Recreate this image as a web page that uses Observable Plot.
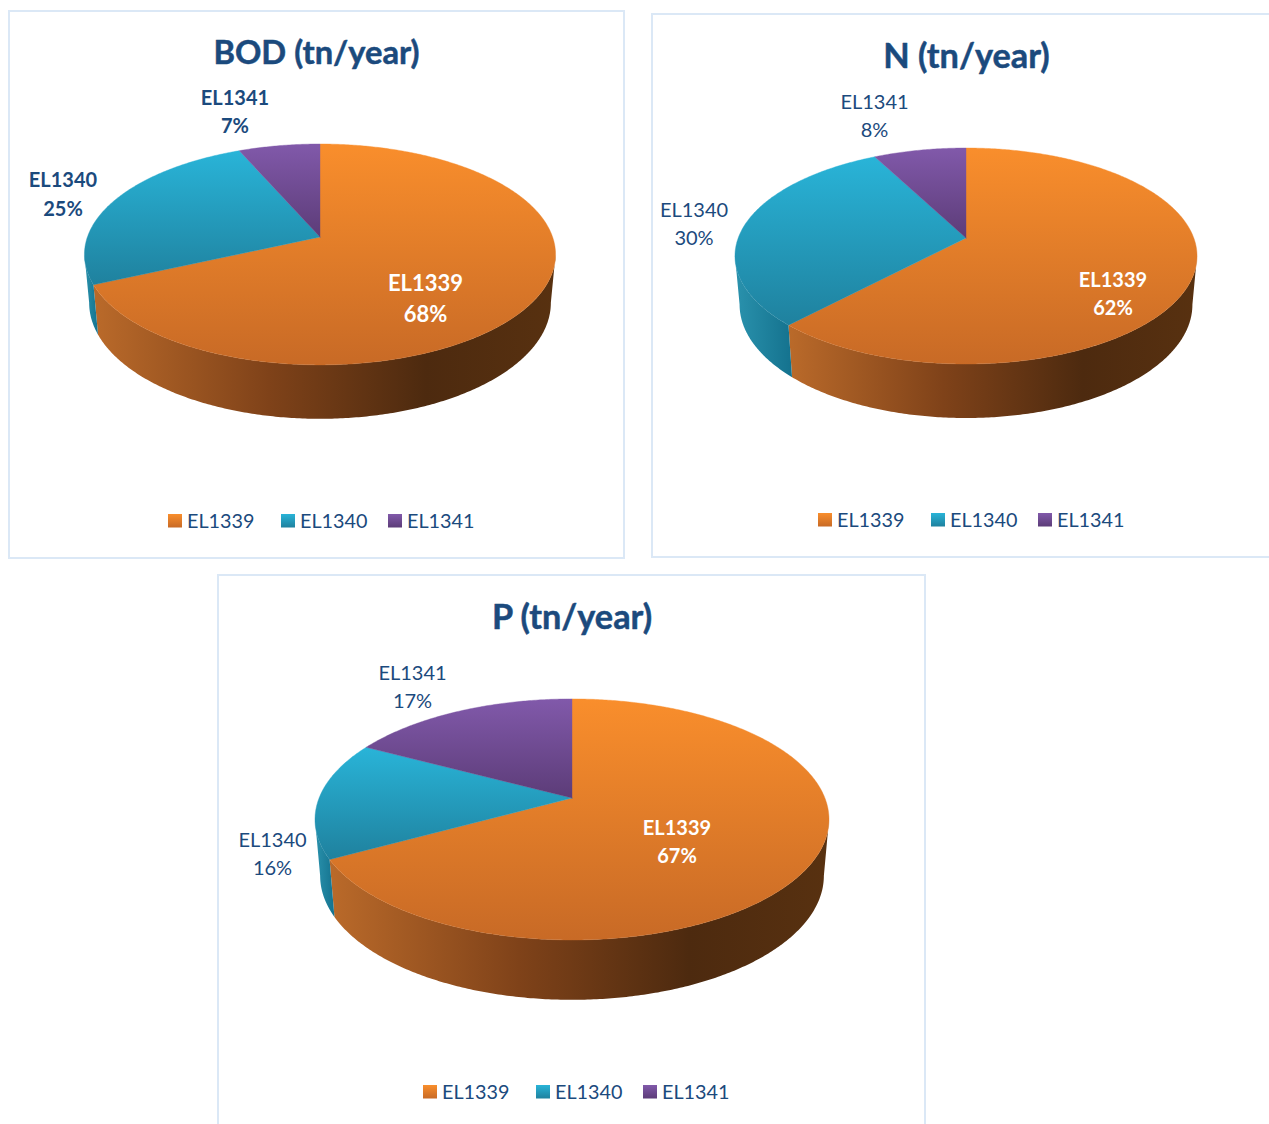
<!DOCTYPE html>
<html>
<head>
<meta charset="utf-8">
<script src="https://cdn.jsdelivr.net/npm/d3@7"></script>
<script src="https://cdn.jsdelivr.net/npm/@observablehq/plot@0.6"></script>
<style>html,body{margin:0;padding:0;background:#fff;overflow:hidden}svg{display:block}</style>
</head>
<body>
<div id="chart"></div>
<script>
// ---- data ----
const series = ["EL1339", "EL1340", "EL1341"];
const titles = ["BOD (tn/year)", "N (tn/year)", "P (tn/year)"];
const bodValues = [68.2, 25.3, 6.5];
const nValues = [62, 30.4, 7.6];
const pValues = [67, 15.8, 17.2];

// ---- layout and style (separate from the values) ----
const W = 1269, H = 1124;
const ink = "#1b4a7d";
const faceStops = [["#f98e2c", "#c86a26"], ["#29b4d8", "#1f819e"], ["#8159aa", "#5c3c78"]];
const wallStops = [
  [[0, "#ba6a2a"], [0.38, "#7f4219"], [0.72, "#4d2a0f"], [1, "#583110"]],
  [[0, "#2a92ad"], [1, "#14728e"]],
  [[0, "#5c3c78"], [1, "#4a2f62"]]
];
const panels = [
  {values: bodValues, title: titles[0], frame: [9, 624, 11, 558], titleAt: [316, 53], titleSize: 32.7,
   cx: 319.5, cy: 236.5, a: 232.6, b: 107.7, k: -0.158, drop: 47.5, shrinkX: 0.98, shrinkY: 1.05,
   labels: [[425, 283, 314], [62.5, 180, 209], [234.5, 98, 126]], labelBold: true, labelSizes: [22, 20, 20],
   legend: [168, 521]},
  {values: nValues, title: titles[1], frame: [652, 1290, 14, 557], titleAt: [966, 57], titleSize: 34.3,
   cx: 965.5, cy: 237.5, a: 227.8, b: 105, k: -0.1667, drop: 47.7, shrinkX: 0.98, shrinkY: 1.05,
   labels: [[1112.5, 280, 308], [693.5, 210, 238], [874, 102, 130]], labelBold: false, labelSizes: [20, 20, 20],
   legend: [818, 520]},
  {values: pValues, title: titles[2], frame: [218, 925, 575, 1150], titleAt: [571.5, 618], titleSize: 34.3,
   cx: 571.5, cy: 797.5, a: 252.9, b: 116.7, k: -0.178, drop: 55.6, shrinkX: 0.98, shrinkY: 1.03,
   labels: [[676.5, 828, 856], [272, 840, 868], [412, 673, 701]], labelBold: false, labelSizes: [20, 20, 20],
   legend: [423, 1092]}
];
const legendOffsets = [0, 113, 220];
const TAU = 2 * Math.PI;

// perspective disc: angle clockwise from the top of the pie -> picture position
function upperRim(p, t) {
  const X = Math.sin(t), Y = -Math.cos(t), w = 1 + p.k * Y;
  return {x: p.cx + p.a * X / w, y: p.cy + p.b * Y / w};
}
function lowerRim(p, t) {
  const q = upperRim(p, t);
  return {x: p.cx + p.shrinkX * (q.x - p.cx), y: p.cy + p.drop + p.shrinkY * (q.y - p.cy)};
}
function arc(f, p, t0, t1) {
  const n = Math.max(2, Math.ceil(Math.abs(t1 - t0) / 0.01));
  return d3.range(n + 1).map(i => f(p, t0 + (t1 - t0) * i / n));
}

const marks = [];
panels.forEach(p => {
  marks.push(Plot.rect([p.frame], {x1: d => d[0], x2: d => d[1], y1: d => d[2], y2: d => d[3],
    fill: "none", stroke: "#dbe8f6", strokeWidth: 2}));
  const total = d3.sum(p.values);
  const arcs = [];
  let acc = 0;
  p.values.forEach((v, i) => { arcs.push({i, t0: acc / total * TAU, t1: (acc + v) / total * TAU}); acc += v; });
  const tR = Math.acos(p.k), tL = TAU - tR;
  // side walls of the visible front of the disc
  arcs.forEach(s => {
    const a0 = Math.max(s.t0, tR), a1 = Math.min(s.t1, tL);
    if (a1 <= a0) return;
    const pts = [...arc(upperRim, p, a0, a1), ...arc(lowerRim, p, a1, a0)];
    marks.push(Plot.line(pts, {x: "x", y: "y", fill: `url(#wall${s.i})`, stroke: "none"}));
  });
  // top faces
  arcs.forEach(s => {
    const pts = [{x: p.cx, y: p.cy}, ...arc(upperRim, p, s.t0, s.t1), {x: p.cx, y: p.cy}];
    marks.push(Plot.line(pts, {x: "x", y: "y", fill: `url(#face${s.i})`, stroke: `url(#face${s.i})`, strokeWidth: 0.4}));
  });
  // title
  marks.push(Plot.text([p.title], {x: () => p.titleAt[0], y: () => p.titleAt[1], text: d => d,
    fontSize: p.titleSize, fontWeight: 700, fill: ink, stroke: ink, strokeWidth: 0.5}));
  // data labels
  p.values.forEach((v, i) => {
    const [lx, y1, y2] = p.labels[i];
    const rows = [{t: series[i], y: y1}, {t: Math.round(v) + "%", y: y2}];
    marks.push(Plot.text(rows, {x: () => lx, y: "y", text: "t", fontSize: p.labelSizes[i],
      fontWeight: (p.labelBold || i === 0) ? 700 : 400, fill: i === 0 ? "#fff" : ink}));
  });
  // legend
  series.forEach((name, i) => {
    const lx = p.legend[0] + legendOffsets[i], ly = p.legend[1];
    marks.push(Plot.rect([name], {x1: () => lx, x2: () => lx + 14, y1: () => ly - 7, y2: () => ly + 6.5,
      fill: `url(#face${i})`}));
    marks.push(Plot.text([name], {x: () => lx + 18.5, y: () => ly, text: d => d, textAnchor: "start",
      fontSize: 19.8, fill: ink}));
  });
});

const chart = Plot.plot({
  width: W, height: H, margin: 0,
  x: {domain: [0, W], range: [0, W], axis: null},
  y: {domain: [0, H], range: [0, H], axis: null},
  style: {fontFamily: "Lato, sans-serif", background: "#fff"},
  marks
});

const defs = d3.select(chart).insert("defs", ":first-child");
faceStops.forEach((stops, i) => {
  const g = defs.append("linearGradient").attr("id", `face${i}`).attr("x1", 0).attr("y1", 0).attr("x2", 0).attr("y2", 1);
  stops.forEach((c, j) => g.append("stop").attr("offset", j).attr("stop-color", c));
});
wallStops.forEach((stops, i) => {
  const g = defs.append("linearGradient").attr("id", `wall${i}`).attr("x1", 0).attr("y1", 0).attr("x2", 1).attr("y2", 0);
  stops.forEach(([o, c]) => g.append("stop").attr("offset", o).attr("stop-color", c));
});
document.getElementById("chart").appendChild(chart);
</script>
</body>
</html>
